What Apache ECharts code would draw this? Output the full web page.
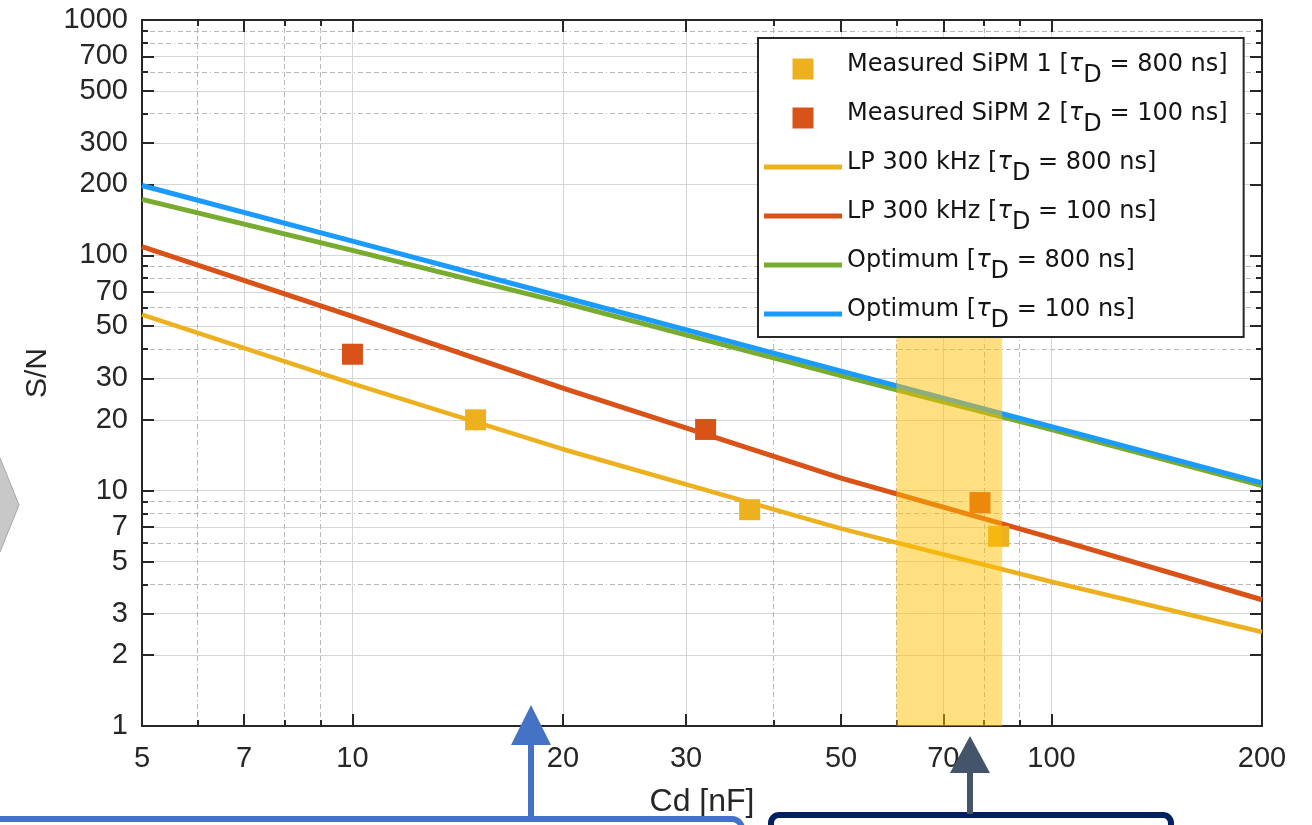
<!DOCTYPE html>
<html>
<head>
	<meta charset="utf-8">
	<title>S/N vs Cd</title>
	<script src="https://cdn.jsdelivr.net/npm/echarts@6/dist/echarts.min.js"></script>
	<style>
		html, body { margin: 0; padding: 0; background: #fff; }
		#chart { width: 1312px; height: 825px; }
	</style>
</head>
<body>
	<div id="chart"></div>
	<script>
		// tick positions (log axes)
		const xTicks = [5, 7, 10, 20, 30, 50, 70, 100, 200];
		const xMinor = [6, 8, 9, 40, 60, 80, 90];
		const yTicks = [1, 2, 3, 5, 7, 10, 20, 30, 50, 70, 100, 200, 300, 500, 700, 1000];
		const yMinor = [4, 6, 8, 9, 40, 60, 80, 90, 400, 600, 800, 900];

		// model curves
		const cdModel = [5, 10, 20, 50, 100, 200];
		const lpSlow = [56, 28.5, 15.0, 6.9, 4.1, 2.51];     // LP 300 kHz, tauD 800 ns
		const lpFast = [109, 55, 27.3, 11.3, 6.3, 3.44];     // LP 300 kHz, tauD 100 ns
		const optSlow = [173, 105, 63, 30.8, 18.2, 10.5];    // optimum, tauD 800 ns
		const optFast = [198, 115, 66.5, 32.2, 18.7, 10.8];  // optimum, tauD 100 ns

		// measurements
		const sipm1 = [[15, 20], [37, 8.3], [84, 6.4]];
		const sipm2 = [[10, 38], [32, 18.2], [79, 8.9]];

		// highlighted Cd range
		const bandCd = [60, 85];
		const bandSN = [1, 46];

		const names = {
			m1: 'Measured SiPM 1 [τD = 800 ns]',
			m2: 'Measured SiPM 2 [τD = 100 ns]',
			lp1: 'LP 300 kHz [τD = 800 ns]',
			lp2: 'LP 300 kHz [τD = 100 ns]',
			op1: 'Optimum [τD = 800 ns]',
			op2: 'Optimum [τD = 100 ns]'
		};

		const zip = function(xs, ys){ return xs.map(function(x, i){ return [x, ys[i]]; }); };

		const axisColor = '#262626';
		const labelFont = { fontFamily: 'Liberation Sans', fontSize: 29, color: axisColor };
		const dashGrid = { color: '#b8b8b8', width: 1, type: [5, 3, 5, 3, 5, 3, 5, 3, 1, 3] };
		const fmt = function(v){ return String(+(+v).toPrecision(6)); };

		const logAxis = function(extra){
			return Object.assign({
				type: 'log',
				logBase: 10,
				axisLine: { show: false },
				axisLabel: { show: false },
				axisTick: { show: false },
				splitLine: { show: false },
				minorTick: { show: false },
				minorSplitLine: { show: false }
			}, extra);
		};

		const xRange = { min: 5, max: 200 };
		const yRange = { min: 1, max: 1000 };

		const xAxes = [
			logAxis(Object.assign({
				position: 'bottom',
				name: 'Cd [nF]',
				nameLocation: 'middle',
				nameGap: 60,
				nameTextStyle: { fontFamily: 'Liberation Sans', fontSize: 32, color: axisColor },
				axisLine: { show: true, lineStyle: { color: axisColor, width: 2 } },
				axisTick: { show: true, customValues: xTicks, inside: true, length: 12, lineStyle: { color: axisColor, width: 2 } },
				axisLabel: Object.assign({ show: true, customValues: xTicks, margin: 18, formatter: fmt }, labelFont),
				splitLine: { show: true, lineStyle: { color: '#d6d6d6', width: 1 } }
			}, xRange)),
			logAxis(Object.assign({
				position: 'bottom',
				axisTick: { show: true, customValues: xMinor, inside: true, length: 6, lineStyle: { color: axisColor, width: 2 } },
				splitLine: { show: true, lineStyle: dashGrid }
			}, xRange)),
			logAxis(Object.assign({
				position: 'top',
				axisLine: { show: true, lineStyle: { color: axisColor, width: 2 } },
				axisTick: { show: true, customValues: xTicks, inside: true, length: 12, lineStyle: { color: axisColor, width: 2 } }
			}, xRange)),
			logAxis(Object.assign({
				position: 'top',
				axisTick: { show: true, customValues: xMinor, inside: true, length: 6, lineStyle: { color: axisColor, width: 2 } }
			}, xRange))
		];

		const yAxes = [
			logAxis(Object.assign({
				position: 'left',
				name: 'S/N',
				nameLocation: 'middle',
				nameGap: 88,
				nameTextStyle: { fontFamily: 'Liberation Sans', fontSize: 30, color: axisColor },
				axisLine: { show: true, lineStyle: { color: axisColor, width: 2 } },
				axisTick: { show: true, customValues: yTicks, inside: true, length: 12, lineStyle: { color: axisColor, width: 2 } },
				axisLabel: Object.assign({ show: true, customValues: yTicks, margin: 14, formatter: fmt }, labelFont),
				splitLine: { show: true, lineStyle: { color: '#d6d6d6', width: 1 } }
			}, yRange)),
			logAxis(Object.assign({
				position: 'left',
				axisTick: { show: true, customValues: yMinor, inside: true, length: 6, lineStyle: { color: axisColor, width: 2 } },
				splitLine: { show: true, lineStyle: dashGrid }
			}, yRange)),
			logAxis(Object.assign({
				position: 'right',
				axisLine: { show: true, lineStyle: { color: axisColor, width: 2 } },
				axisTick: { show: true, customValues: yTicks, inside: true, length: 12, lineStyle: { color: axisColor, width: 2 } }
			}, yRange)),
			logAxis(Object.assign({
				position: 'right',
				axisTick: { show: true, customValues: yMinor, inside: true, length: 6, lineStyle: { color: axisColor, width: 2 } }
			}, yRange))
		];

		const lineSeries = function(name, ys, color, width){
			return {
				name: name, type: 'line', data: zip(cdModel, ys),
				symbol: 'none', color: color,
				lineStyle: { color: color, width: width },
				z: 2
			};
		};

		const legendText = function(name){
			const p = name.split('τD');
			return '{m|' + p[0] + '}{t|τ}{s|D}{m|' + p[1] + '}';
		};
		const legFont = { fontFamily: 'DejaVu Sans', fontSize: 24, color: '#141414' };

		const squareIcon = 'path://M0,0h10v10h-10z';
		const barIcon = 'path://M0,0h78v5h-78z';

		const chart = echarts.init(document.getElementById('chart'));
		chart.setOption({
			animation: false,
			backgroundColor: '#fff',
			grid: { left: 142, right: 50, top: 20, bottom: 99, outerBoundsMode: 'none' },
			xAxis: xAxes,
			yAxis: yAxes,
			legend: {
				orient: 'vertical',
				left: 758, top: 38,
				padding: [15, 16, 4, 6],
				itemGap: 14,
				itemWidth: 78, itemHeight: 21,
				backgroundColor: '#fff',
				borderColor: axisColor, borderWidth: 2, borderRadius: 0,
				z: 10,
				data: [
					{ name: names.m1, icon: squareIcon },
					{ name: names.m2, icon: squareIcon },
					{ name: names.lp1, icon: barIcon },
					{ name: names.lp2, icon: barIcon },
					{ name: names.op1, icon: barIcon },
					{ name: names.op2, icon: barIcon }
				],
				formatter: legendText,
				textStyle: {
					rich: {
						m: Object.assign({ padding: [0, 0, 8, 0] }, legFont),
						t: Object.assign({ padding: [0, 0, 8, 0], fontStyle: 'italic' }, legFont),
						s: Object.assign({ padding: [14, 0, 0, 0] }, legFont)
					}
				}
			},
			series: [
				lineSeries(names.lp1, lpSlow, '#EDB120', 4.5),
				lineSeries(names.lp2, lpFast, '#D95319', 5),
				lineSeries(names.op1, optSlow, '#77AC30', 5),
				lineSeries(names.op2, optFast, '#1B9BFF', 5),
				{
					name: names.m1, type: 'scatter', data: sipm1,
					symbol: 'rect', symbolSize: 21, color: '#EDB120', z: 3,
					itemStyle: { opacity: 1 }
				},
				{
					name: names.m2, type: 'scatter', data: sipm2,
					symbol: 'rect', symbolSize: 21, color: '#D95319', z: 3,
					itemStyle: { opacity: 1 },
					markArea: {
						silent: true,
						z: 5,
						itemStyle: { color: 'rgba(255,192,0,0.5)' },
						data: [[
							{ xAxis: bandCd[0], yAxis: bandSN[0] },
							{ xAxis: bandCd[1], yAxis: bandSN[1] }
						]]
					}
				}
			],
			graphic: [
				{ type: 'polygon', z: 100, shape: { points: [[-30, 458], [0, 458], [19, 505], [0, 552], [-30, 552]] },
					style: { fill: '#c8c8c8', stroke: '#a5a5a5', lineWidth: 1 } },
				{ type: 'rect', z: 100, shape: { x: -20, y: 819, width: 762, height: 60, r: 10 },
					style: { fill: '#fff', stroke: '#4472C4', lineWidth: 6 } },
				{ type: 'rect', z: 100, shape: { x: 528, y: 742, width: 6, height: 76 }, style: { fill: '#4472C4' } },
				{ type: 'polygon', z: 100, shape: { points: [[531, 705], [551, 745], [511, 745]] }, style: { fill: '#4472C4' } },
				{ type: 'rect', z: 100, shape: { x: 771, y: 815, width: 400, height: 60, r: 8 },
					style: { fill: '#fff', stroke: '#002060', lineWidth: 6 } },
				{ type: 'rect', z: 100, shape: { x: 967, y: 770, width: 6, height: 44 }, style: { fill: '#44546A' } },
				{ type: 'polygon', z: 100, shape: { points: [[970, 736], [990, 773], [950, 773]] }, style: { fill: '#44546A' } }
			]
		});
	</script>
</body>
</html>
